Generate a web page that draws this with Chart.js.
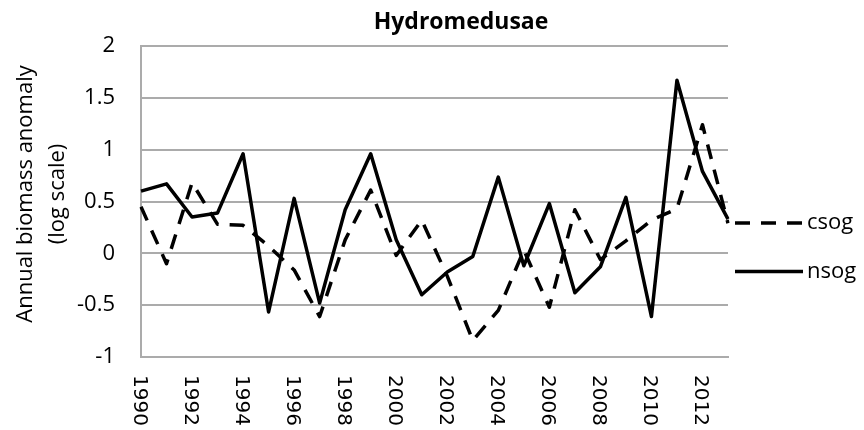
<!DOCTYPE html>
<html>
<head>
<meta charset="utf-8">
<script src="https://cdn.jsdelivr.net/npm/chart.js@4"></script>
<style>
  html,body{margin:0;padding:0;background:#fff;}
</style>
</head>
<body>
<canvas id="grafico" width="864" height="430"></canvas>
<script>
// datos
const years=['1990','1991','1992','1993','1994','1995','1996','1997','1998','1999','2000','2001',
  '2002','2003','2004','2005','2006','2007','2008','2009','2010','2011','2012','2013'];
const csog=[0.45,-0.1,0.68,0.28,0.27,0.07,-0.16,-0.61,0.13,0.61,-0.02,0.32,
  -0.22,-0.84,-0.55,0.03,-0.52,0.42,-0.06,0.12,0.32,0.43,1.24,0.29];
const nsog=[0.6,0.67,0.35,0.39,0.96,-0.565,0.53,-0.48,0.42,0.96,0.13,-0.40,
  -0.18,-0.03,0.735,-0.12,0.48,-0.38,-0.13,0.54,-0.61,1.67,0.79,0.33];
const seriesNames=['csog','nsog'];
const yLabel=['Annual biomass anomaly','(log scale)'];
const titulo='Hydromedusae';

const gris='#ababab';
const FUENTE='"Open Sans", sans-serif';

// textos a mano: titulo, eje y rotado, años girados y leyenda
const textos={
  id:'textos',
  afterDraw(chart){
    const ctx=chart.ctx, xs=chart.scales.x, area=chart.chartArea;
    ctx.save();
    ctx.fillStyle='#000';

    ctx.font='bold 23px '+FUENTE;
    ctx.textAlign='center';
    ctx.textBaseline='alphabetic';
    ctx.fillText(titulo,461,28.5);

    ctx.font='22px '+FUENTE;
    [31.5,63.5].forEach((bx,i)=>{
      ctx.save();
      ctx.translate(bx,194);
      ctx.rotate(-Math.PI/2);
      ctx.fillText(yLabel[i],0,0);
      ctx.restore();
    });

    ctx.font='20px "DejaVu Sans", sans-serif';
    ctx.textAlign='left';
    ctx.textBaseline='middle';
    years.forEach((y,i)=>{
      if(i%2) return;
      ctx.save();
      ctx.translate(xs.getPixelForValue(i)-2,area.bottom+18);
      ctx.rotate(Math.PI/2);
      ctx.fillText(y,0,0);
      ctx.restore();
    });

    // leyenda
    const filas=[223,271.5];
    chart.data.datasets.forEach((ds,i)=>{
      ctx.save();
      ctx.strokeStyle=ds.borderColor;
      ctx.lineWidth=ds.borderWidth;
      ctx.setLineDash(ds.borderDash||[]);
      ctx.beginPath();
      ctx.moveTo(735,filas[i]);
      ctx.lineTo(803,filas[i]);
      ctx.stroke();
      ctx.restore();
      ctx.font='22px '+FUENTE;
      ctx.textAlign='left';
      ctx.textBaseline='middle';
      ctx.fillText(ds.label,807,filas[i]);
    });
    ctx.restore();
  }
};

new Chart(document.getElementById('grafico'),{
  type:'line',
  data:{
    labels:years,
    datasets:[
      {label:seriesNames[0],data:csog,borderColor:'#000',borderWidth:3.5,borderDash:[15,11],
       pointRadius:0,tension:0,borderJoinStyle:'round'},
      {label:seriesNames[1],data:nsog,borderColor:'#000',borderWidth:3.5,
       pointRadius:0,tension:0,borderJoinStyle:'round'}
    ]
  },
  options:{
    responsive:false,
    animation:false,
    devicePixelRatio:1,
    layout:{padding:{top:46,right:136,bottom:0,left:0}},
    plugins:{legend:{display:false},title:{display:false},tooltip:{enabled:false}},
    scales:{
      x:{
        offset:false,
        grid:{display:false,drawTicks:false},
        border:{display:true,color:gris,width:2},
        ticks:{display:false},
        afterFit:s=>{s.height=73;}
      },
      y:{
        min:-1,max:2,
        grid:{color:gris,lineWidth:2,drawTicks:false},
        border:{display:true,color:gris,width:2},
        ticks:{stepSize:0.5,padding:26,color:'#000',font:{family:'Open Sans',size:22},
          callback:v=>String(+v.toFixed(1))},
        afterFit:s=>{s.width=141;}
      }
    }
  },
  plugins:[textos]
});
</script>
</body>
</html>
